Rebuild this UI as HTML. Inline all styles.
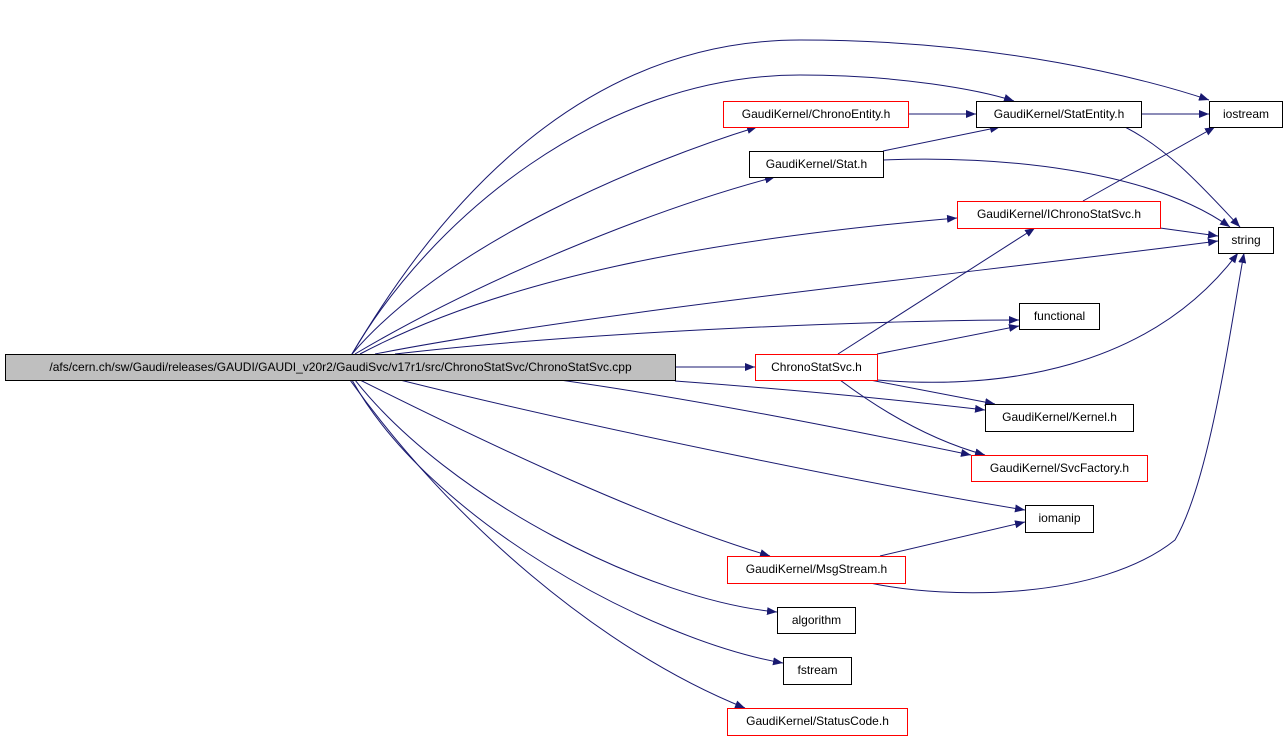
<!DOCTYPE html>
<html><head><style>
body{margin:0;background:#fff;width:1288px;height:740px;overflow:hidden;position:relative;font-family:"Liberation Sans",sans-serif}
.n{position:absolute;box-sizing:border-box;border:1px solid #000;background:#fff;font-size:12px;line-height:24px;text-align:center;white-space:nowrap}
.r{border-color:#f00}
svg{position:absolute;left:0;top:0}
</style></head><body>
<svg width="1288" height="740">
<defs><marker id="a" markerWidth="10" markerHeight="8" refX="10" refY="4" orient="auto" markerUnits="userSpaceOnUse"><polygon points="0,0 10,4 0,8" fill="#191970"/></marker></defs>
<g fill="none" stroke="#191970" stroke-width="1" marker-end="url(#a)">
<path d="M352,354 C420,240 560,40 800,40 C1000,40 1150,80 1209,100"/>
<path d="M352,354 C430,220 600,75 800,75 C900,75 980,90 1014,101"/>
<path d="M352,354 C450,240 650,160 757,127"/>
<path d="M355,354 C480,280 650,210 775,177"/>
<path d="M360,354 C500,280 700,240 957,218"/>
<path d="M375,354 C600,310 1000,270 1218,241"/>
<path d="M395,354 C600,330 900,320 1019,320"/>
<path d="M675,367 L755,367"/>
<path d="M675,381 C800,390 900,400 985,410"/>
<path d="M560,380 C700,400 850,430 971,455"/>
<path d="M400,380 C600,430 900,490 1025,510"/>
<path d="M360,380 C500,450 650,520 770,556"/>
<path d="M355,380 C450,500 650,600 777,612"/>
<path d="M352,380 C430,520 650,640 783,663"/>
<path d="M350,380 C450,520 600,650 745,708"/>
<path d="M908,114 L976,114"/>
<path d="M1141,114 L1209,114"/>
<path d="M1125,127 C1170,150 1205,190 1240,227"/>
<path d="M883,151 L1000,127"/>
<path d="M883,160 C1000,155 1150,170 1230,227"/>
<path d="M1083,201 L1215,127"/>
<path d="M1160,228 L1218,236"/>
<path d="M838,354 L1035,228"/>
<path d="M877,354 L1019,326"/>
<path d="M877,380 C1000,390 1150,370 1238,253"/>
<path d="M870,380 L995,404"/>
<path d="M840,380 C880,410 930,440 985,455"/>
<path d="M880,556 L1025,522"/>
<path d="M870,583 C950,600 1100,600 1175,540 C1210,480 1230,330 1244,253"/>
</g>
</svg>
<div class="n" style="left:5px;top:354px;width:671px;height:27px;background:#bfbfbf">/afs/cern.ch/sw/Gaudi/releases/GAUDI/GAUDI_v20r2/GaudiSvc/v17r1/src/ChronoStatSvc/ChronoStatSvc.cpp</div>
<div class="n r" style="left:723px;top:101px;width:186px;height:27px">GaudiKernel/ChronoEntity.h</div>
<div class="n" style="left:976px;top:101px;width:166px;height:27px">GaudiKernel/StatEntity.h</div>
<div class="n" style="left:1209px;top:101px;width:74px;height:27px">iostream</div>
<div class="n" style="left:749px;top:151px;width:135px;height:27px">GaudiKernel/Stat.h</div>
<div class="n r" style="left:957px;top:201px;width:204px;height:28px">GaudiKernel/IChronoStatSvc.h</div>
<div class="n" style="left:1218px;top:227px;width:56px;height:27px">string</div>
<div class="n" style="left:1019px;top:303px;width:81px;height:27px">functional</div>
<div class="n r" style="left:755px;top:354px;width:123px;height:27px">ChronoStatSvc.h</div>
<div class="n" style="left:985px;top:404px;width:149px;height:28px">GaudiKernel/Kernel.h</div>
<div class="n r" style="left:971px;top:455px;width:177px;height:27px">GaudiKernel/SvcFactory.h</div>
<div class="n" style="left:1025px;top:505px;width:69px;height:28px">iomanip</div>
<div class="n r" style="left:727px;top:556px;width:179px;height:28px">GaudiKernel/MsgStream.h</div>
<div class="n" style="left:777px;top:607px;width:79px;height:27px">algorithm</div>
<div class="n" style="left:783px;top:657px;width:69px;height:28px">fstream</div>
<div class="n r" style="left:727px;top:708px;width:181px;height:28px">GaudiKernel/StatusCode.h</div>
</body></html>
